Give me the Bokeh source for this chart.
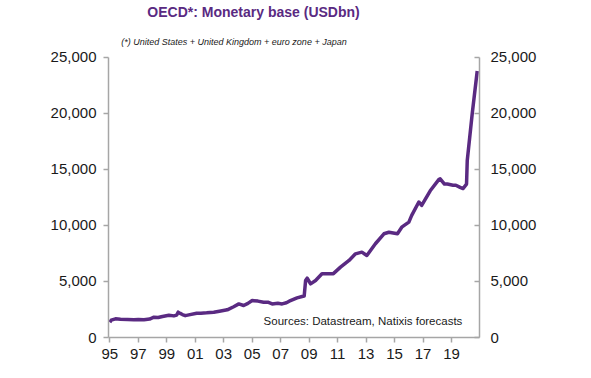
from bokeh.plotting import figure
from bokeh.models import (Range1d, LinearAxis, FixedTicker, NumeralTickFormatter,
                          Label, ColumnDataSource)
from bokeh.embed import file_html
from bokeh.resources import INLINE

# ---- data (decimal years, USD bn) ----
dates = [1995.00, 1995.10, 1995.40, 1995.75, 1996.25, 1996.70, 1997.00, 1997.40, 1997.80,
         1998.10, 1998.40, 1998.70, 1999.15, 1999.50, 1999.70, 1999.80, 1999.95, 2000.10,
         2000.30, 2000.55, 2001.10, 2001.40, 2001.80, 2002.30, 2002.70, 2003.25, 2003.70,
         2004.06, 2004.40, 2004.70, 2005.00, 2005.40, 2005.80, 2006.10, 2006.40, 2006.80,
         2007.10, 2007.40, 2007.60, 2008.15, 2008.50, 2008.65, 2008.75, 2008.86, 2009.00,
         2009.10, 2009.45, 2009.90, 2010.40, 2010.70, 2011.20, 2011.80, 2012.25, 2012.70,
         2013.05, 2013.65, 2014.25, 2014.60, 2015.20, 2015.50, 2016.00, 2016.20, 2016.70,
         2016.90, 2017.50, 2018.10, 2018.20, 2018.50, 2018.70, 2019.10, 2019.30, 2019.60,
         2019.80, 2020.05, 2020.10, 2020.45, 2020.80]
values = [1370, 1550, 1670, 1620, 1600, 1580, 1610, 1580, 1650,
          1810, 1780, 1880, 1990, 1930, 2000, 2260, 2150, 2050,
          1950, 2020, 2170, 2170, 2200, 2260, 2350, 2470, 2750,
          3000, 2860, 3050, 3300, 3250, 3150, 3150, 3000, 3050,
          3000, 3100, 3240, 3540, 3660, 3700, 5090, 5300, 5000,
          4790, 5090, 5690, 5690, 5700, 6280, 6880, 7470, 7620,
          7320, 8370, 9260, 9400, 9260, 9850, 10300, 10900, 12100,
          11800, 13100, 14100, 14170, 13700, 13700, 13600, 13600, 13400,
          13300, 13700, 15800, 20000, 23800]

x_ticks = [1995, 1997, 1999, 2001, 2003, 2005, 2007, 2009, 2011, 2013, 2015, 2017, 2019]
x_tick_labels = ["95", "97", "99", "01", "03", "05", "07", "09", "11", "13", "15", "17", "19"]
y_ticks = [0, 5000, 10000, 15000, 20000, 25000]
y_axis_max = 25000

title_text = "OECD*:  Monetary base (USDbn)"
subtitle_text = "(*) United States + United Kingdom + euro zone + Japan"
source_text = "Sources: Datastream,  Natixis forecasts"

PURPLE = "#5a2a82"
AXIS_GREY = "#a6a6a6"
FONT = "Liberation Sans"

# frame spans the full canvas height above the x axis; the axes are bounded at 25,000
p = figure(width=583, height=370, output_backend="svg", toolbar_location=None,
           x_range=Range1d(1994.91, 2020.96), y_range=Range1d(0, 30089),
           min_border_left=108, min_border_right=104, min_border_top=0,
           min_border_bottom=33, y_axis_location=None, title=None)
p.outline_line_color = None
p.xgrid.visible = False
p.ygrid.visible = False
p.background_fill_color = "white"
p.border_fill_color = "white"

src = ColumnDataSource(dict(x=dates, y=values))
p.line("x", "y", source=src, line_color=PURPLE, line_width=3.5, line_join="round")

def style(ax, tick_in, tick_out, standoff):
    ax.axis_line_color = AXIS_GREY
    ax.axis_line_width = 1.5
    ax.major_tick_line_color = AXIS_GREY
    ax.major_tick_line_width = 1.5
    ax.major_tick_in = tick_in
    ax.major_tick_out = tick_out
    ax.minor_tick_line_color = None
    ax.major_label_text_font = FONT
    ax.major_label_text_font_size = "15px"
    ax.major_label_text_color = "#1a1a1a"
    ax.major_label_standoff = standoff

# bottom axis
xa = p.xaxis[0]
xa.ticker = FixedTicker(ticks=x_ticks)
xa.major_label_overrides = {t: l for t, l in zip(x_ticks, x_tick_labels)}
style(xa, 0, 5, 6)

left = LinearAxis(ticker=FixedTicker(ticks=y_ticks), bounds=(0, y_axis_max),
                  formatter=NumeralTickFormatter(format="0,0"))
style(left, 0, 5, 7)
p.add_layout(left, "left")

right = LinearAxis(ticker=FixedTicker(ticks=y_ticks), bounds=(0, y_axis_max),
                   formatter=NumeralTickFormatter(format="0,0"))
style(right, 5, 0, 11)
p.add_layout(right, "right")

# texts (data coordinates of the fixed ranges)
p.add_layout(Label(x=2005.23, y=29018, text=title_text, text_align="center",
                   text_baseline="middle", text_font=FONT, text_font_style="bold",
                   text_font_size="14px", text_color=PURPLE))
p.add_layout(Label(x=2003.72, y=26340, text=subtitle_text, text_align="center",
                   text_baseline="middle", text_font=FONT, text_font_style="italic",
                   text_font_size="9px", text_color="#1a1a1a"))
p.add_layout(Label(x=2019.98, y=1430, text=source_text, text_align="right",
                   text_baseline="middle", text_font=FONT,
                   text_font_size="11.5px", text_color="#1a1a1a"))

open("out.html", "w").write(file_html(p, INLINE))
